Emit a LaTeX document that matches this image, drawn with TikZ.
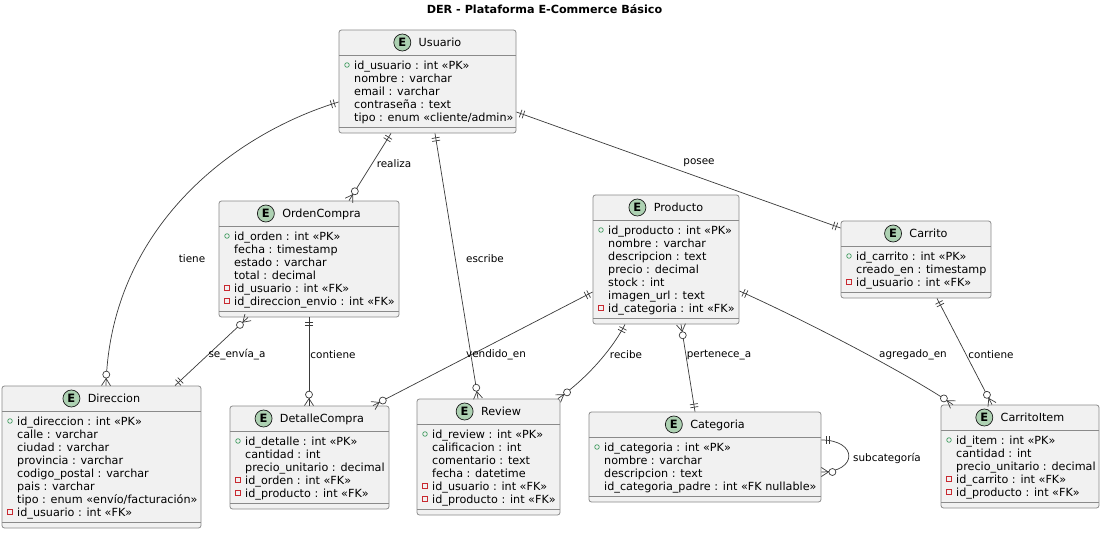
\documentclass[tikz,border=0pt]{standalone}
\usepackage{fontspec}
\setmainfont{DejaVu Sans}
\usetikzlibrary{calc}
\definecolor{boxfill}{HTML}{F1F1F1}
\definecolor{boxline}{HTML}{8A8A8A}
\definecolor{relline}{HTML}{3A3A3A}
\definecolor{ecircfill}{HTML}{ADD1B2}
\definecolor{pkcol}{HTML}{3E9A5E}
\definecolor{fkcol}{HTML}{C82930}
\tikzset{
  ebox/.style={draw=boxline, fill=boxfill, rounded corners=2.5pt, line width=0.8pt, inner sep=0pt},
  esep/.style={draw=boxline, line width=0.8pt},
  etitle/.style={font=\fontsize{11.2}{13}\selectfont, inner sep=0pt, text height=8pt, text depth=0pt},
  ecirc/.style={circle, draw=black!90, line width=0.7pt, fill=ecircfill, minimum size=17pt, inner sep=0pt, font=\fontsize{11.5}{13}\selectfont\bfseries},
  eattr/.style={font=\fontsize{11.2}{13}\selectfont, inner sep=0pt, anchor=west, text height=8pt, text depth=0pt},
  pkicon/.style={draw=pkcol, line width=0.7pt},
  fkicon/.style={draw=fkcol, line width=0.7pt},
  rel/.style={draw=relline, line width=0.7pt},
  lbl/.style={font=\fontsize{10.4}{12}\selectfont, inner sep=0pt},
  titlefont/.style={font=\fontsize{11.2}{13}\selectfont\bfseries, inner sep=0pt}
}
\newcommand\erentity[7]{%
  \pgfmathsetmacro\erH{#4+25}%
  \pgfmathsetmacro\erS{#4+32+13*#5}%
  \pgfmathsetmacro\erB{\erS+6}%
  \pgfmathsetmacro\erW{#3-#2}%
  \pgfmathsetmacro\erHt{\erB-#4}%
  \pgfmathsetmacro\erCx{(#2+#3)/2}%
  \pgfmathsetmacro\erCy{(#4+\erB)/2}%
  \node[ebox, minimum width=\erW pt, minimum height=\erHt pt] (#1) at (\erCx,\erCy) {};
  \draw[esep] (#2,\erH) -- (#3,\erH);
  \draw[esep] (#2,\erS) -- (#3,\erS);
  \node[etitle] (#1-t) at (\erCx,#4+12.5) {\hspace*{25pt}#6};
  \node[ecirc] (#1-e) at ($(#1-t.west)+(8.8,0)$) {E};
  \foreach \k/\t [count=\i] in {#7} {
    \pgfmathsetmacro\ery{\erH+10+13*(\i-1)}
    \node[eattr] (#1-a\i) at (#2+15,\ery) {\t};
    \ifcase\k\relax\or
      \draw[pkicon] (#2+8,\ery) circle (2.3pt);
    \or
      \draw[fkicon] (#2+5.7,\ery-2.3) rectangle (#2+10.3,\ery+2.3);
    \fi
  }
}
\newcommand\erone[2]{%
  \draw[rel] ($(#1)!4.5pt!(#2)!4pt!90:(#2)$) -- ($(#1)!4.5pt!(#2)!4pt!-90:(#2)$);
  \draw[rel] ($(#1)!7.5pt!(#2)!4pt!90:(#2)$) -- ($(#1)!7.5pt!(#2)!4pt!-90:(#2)$);
}
\newcommand\ermany[2]{%
  \draw[rel] ($(#1)!4.5pt!90:(#2)$) -- ($(#1)!7pt!(#2)$) -- ($(#1)!4.5pt!-90:(#2)$);
  \draw[rel, fill=white] ($(#1)!11pt!(#2)$) circle (3.5pt);
}
\begin{document}
\begin{tikzpicture}[x=1pt,y=-1pt]
\fill[white] (0,0) rectangle (1104,538);
\useasboundingbox (0,0) rectangle (1104,538);
\node[titlefont, anchor=base] (title) at (544.5,13) {DER - Plataforma E-Commerce Básico};

\erentity{usuario}{339}{516}{30}{5}{Usuario}{1/{id\_usuario : int «PK»},0/{nombre : varchar},0/{email : varchar},0/{contraseña : text},0/{tipo : enum «cliente/admin»}}
\erentity{orden}{219}{399}{201}{6}{OrdenCompra}{1/{id\_orden : int «PK»},0/{fecha : timestamp},0/{estado : varchar},0/{total : decimal},2/{id\_usuario : int «FK»},2/{id\_direccion\_envio : int «FK»}}
\erentity{producto}{593}{739}{195}{7}{Producto}{1/{id\_producto : int «PK»},0/{nombre : varchar},0/{descripcion : text},0/{precio : decimal},0/{stock : int},0/{imagen\_url : text},2/{id\_categoria : int «FK»}}
\erentity{carrito}{841}{991}{221}{3}{Carrito}{1/{id\_carrito : int «PK»},0/{creado\_en : timestamp},2/{id\_usuario : int «FK»}}
\erentity{direccion}{2}{201}{386}{8}{Direccion}{1/{id\_direccion : int «PK»},0/{calle : varchar},0/{ciudad : varchar},0/{provincia : varchar},0/{codigo\_postal : varchar},0/{pais : varchar},0/{tipo : enum «envío/facturación»},2/{id\_usuario : int «FK»}}
\erentity{detalle}{230}{389}{406}{5}{DetalleCompra}{1/{id\_detalle : int «PK»},0/{cantidad : int},0/{precio\_unitario : decimal},2/{id\_orden : int «FK»},2/{id\_producto : int «FK»}}
\erentity{review}{417}{560}{399}{6}{Review}{1/{id\_review : int «PK»},0/{calificacion : int},0/{comentario : text},0/{fecha : datetime},2/{id\_usuario : int «FK»},2/{id\_producto : int «FK»}}
\erentity{categoria}{589}{821}{412}{4}{Categoria}{1/{id\_categoria : int «PK»},0/{nombre : varchar},0/{descripcion : text},0/{id\_categoria\_padre : int «FK nullable»}}
\erentity{carritoitem}{941}{1099}{405}{5}{CarritoItem}{1/{id\_item : int «PK»},0/{cantidad : int},0/{precio\_unitario : decimal},2/{id\_carrito : int «FK»},2/{id\_producto : int «FK»}}

% tiene
\coordinate (tieneA) at (usuario.west |- 0,102);
\coordinate (tieneB) at (direccion.north -| 106,0);
\coordinate (tieneC1) at (230,135);
\coordinate (tieneC2) at (110,230);
\draw[rel] (tieneA) .. controls (tieneC1) and (tieneC2) .. (tieneB);
\erone{tieneA}{tieneC1}
\ermany{tieneB}{tieneC2}
\node[lbl] (lTiene) at (192,259) {tiene};

% realiza
\coordinate (realizaA) at (usuario.south -| 391,0);
\coordinate (realizaB) at (orden.north -| 349,0);
\draw[rel] (realizaA) -- (realizaB);
\erone{realizaA}{realizaB}
\ermany{realizaB}{realizaA}
\node[lbl] (lRealiza) at (394,164) {realiza};

% escribe
\coordinate (escribeA) at (usuario.south -| 435,0);
\coordinate (escribeB) at (review.north -| 478,0);
\draw[rel] (escribeA) -- (escribeB);
\erone{escribeA}{escribeB}
\ermany{escribeB}{escribeA}
\node[lbl] (lEscribe) at (485,259) {escribe};

% posee
\coordinate (poseeA) at (usuario.east |- 0,112);
\coordinate (poseeB) at (carrito.west |- 0,228);
\draw[rel] (poseeA) -- (poseeB);
\erone{poseeA}{poseeB}
\erone{poseeB}{poseeA}
\node[lbl] (lPosee) at (699,163) {posee};

% se_envia_a
\coordinate (envA) at (orden.south -| 248,0);
\coordinate (envB) at (direccion.north -| 175,0);
\draw[rel] (envA) -- (envB);
\ermany{envA}{envB}
\erone{envB}{envA}
\node[lbl] (lEnv) at (237,355) {se\_envía\_a};

% contiene (orden-detalle)
\coordinate (cont1A) at (orden.south -| 309,0);
\coordinate (cont1B) at (detalle.north -| 309,0);
\draw[rel] (cont1A) -- (cont1B);
\erone{cont1A}{cont1B}
\ermany{cont1B}{cont1A}
\node[lbl] (lCont1) at (333,355) {contiene};

% vendido_en
\coordinate (vendA) at (producto.west |- 0,292);
\coordinate (vendB) at (detalle.north -| 373,0);
\draw[rel] (vendA) -- (vendB);
\erone{vendA}{vendB}
\ermany{vendB}{vendA}
\node[lbl] (lVend) at (496,355) {vendido\_en};

% recibe
\coordinate (recA) at (producto.south -| 625,0);
\coordinate (recB) at (review.north -| 558,0);
\coordinate (recC1) at (612,350);
\coordinate (recC2) at (585,380);
\draw[rel] (recA) .. controls (recC1) and (recC2) .. (recB);
\erone{recA}{recC1}
\ermany{recB}{recC2}
\node[lbl] (lRec) at (626,355) {recibe};

% pertenece_a
\coordinate (perA) at (producto.south -| 681,0);
\coordinate (perB) at (categoria.north -| 695,0);
\draw[rel] (perA) -- (perB);
\ermany{perA}{perB}
\erone{perB}{perA}
\node[lbl] (lPer) at (719,355) {pertenece\_a};

% agregado_en
\coordinate (agrA) at (producto.east |- 0,291);
\coordinate (agrB) at (carritoitem.north -| 953,0);
\coordinate (agrC1) at (800,318);
\coordinate (agrC2) at (905,372);
\draw[rel] (agrA) .. controls (agrC1) and (agrC2) .. (agrB);
\erone{agrA}{agrC1}
\ermany{agrB}{agrC2}
\node[lbl] (lAgr) at (913,355) {agregado\_en};

% contiene (carrito-carritoitem)
\coordinate (cont2A) at (carrito.south -| 937,0);
\coordinate (cont2B) at (carritoitem.north -| 992,0);
\draw[rel] (cont2A) -- (cont2B);
\erone{cont2A}{cont2B}
\ermany{cont2B}{cont2A}
\node[lbl] (lCont2) at (991,355) {contiene};

% subcategoria
\coordinate (subA) at (categoria.east |- 0,440);
\coordinate (subB) at (categoria.east |- 0,472);
\coordinate (subC1) at (858,440);
\coordinate (subC2) at (858,472);
\draw[rel] (subA) .. controls (subC1) and (subC2) .. (subB);
\erone{subA}{subC1}
\ermany{subB}{subC2}
\node[lbl] (lSub) at (887,458) {subcategoría};
\end{tikzpicture}
\end{document}
